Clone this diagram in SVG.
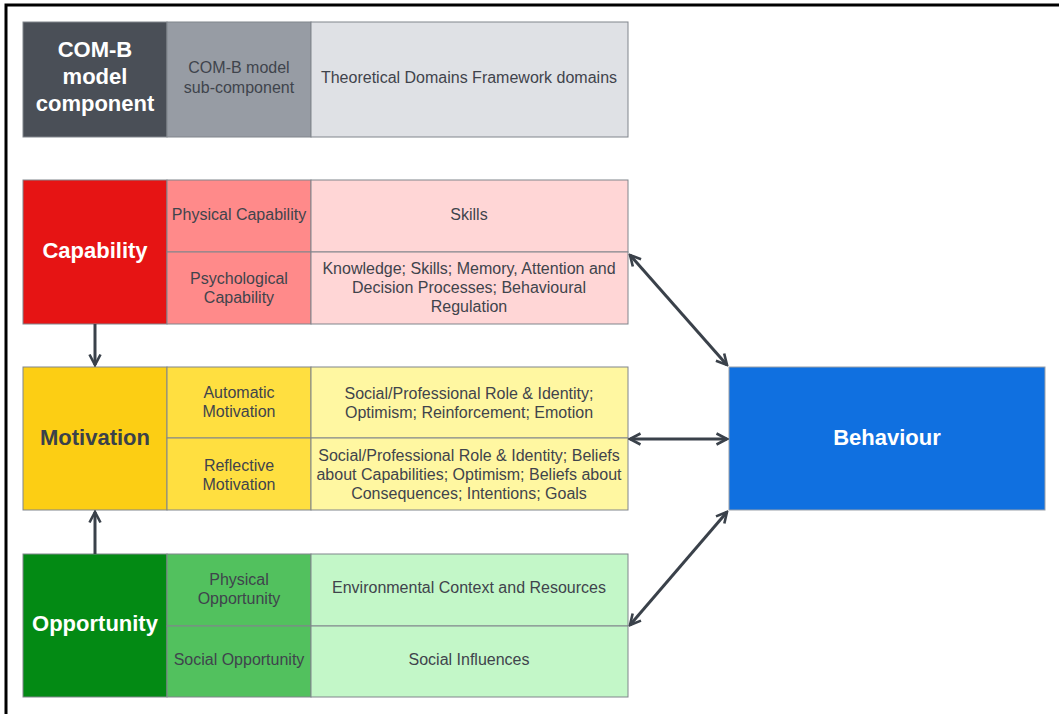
<svg xmlns="http://www.w3.org/2000/svg" width="1059" height="714" viewBox="0 0 1059 714">
<style>
.cell{stroke:#80858c;stroke-width:1}
.t{font-family:"Liberation Sans",Arial,sans-serif;font-size:16px;fill:#3f444c;text-anchor:middle;dominant-baseline:central}
.b{font-family:"Liberation Sans",Arial,sans-serif;font-size:22px;font-weight:bold;text-anchor:middle;dominant-baseline:central}
.w{fill:#ffffff}
.d{fill:#3a414a}
.c{fill:none;stroke:#3a414a;stroke-width:3}
</style>
<defs>
<marker id="ah" viewBox="0 0 14 14" refX="12" refY="7" markerWidth="14" markerHeight="14" markerUnits="userSpaceOnUse" orient="auto-start-reverse">
<path d="M1.5,1.5 L12,7 L1.5,12.5" fill="none" stroke="#3a414a" stroke-width="2.6"/>
</marker>
</defs>
<rect width="1059" height="714" fill="#ffffff"/>
<path d="M6,714 V5 H1059" fill="none" stroke="#000000" stroke-width="3"/>

<g id="header">
<rect class="cell" x="23" y="22" width="144" height="115" fill="#4a4f57"/>
<rect class="cell" x="167" y="22" width="144" height="115" fill="#979ca4"/>
<rect class="cell" x="311" y="22" width="317" height="115" fill="#dfe1e5"/>
<text class="b w" x="95"><tspan x="95" y="49">COM-B</tspan><tspan x="95" y="76">model</tspan><tspan x="95" y="103">component</tspan></text>
<text class="t" x="239"><tspan x="239" y="67">COM-B model</tspan><tspan x="239" y="87">sub-component</tspan></text>
<text class="t" x="469" y="77">Theoretical Domains Framework domains</text>
</g>

<g id="capability">
<rect class="cell" x="23" y="180" width="144" height="144" fill="#e61414"/>
<rect class="cell" x="167" y="180" width="144" height="72" fill="#ff8a8a"/>
<rect class="cell" x="167" y="252" width="144" height="72" fill="#ff8a8a"/>
<rect class="cell" x="311" y="180" width="317" height="72" fill="#ffd6d6"/>
<rect class="cell" x="311" y="252" width="317" height="72" fill="#ffd6d6"/>
<text class="b w" x="95" y="250">Capability</text>
<text class="t" x="239" y="214">Physical Capability</text>
<text class="t" x="239"><tspan x="239" y="278">Psychological</tspan><tspan x="239" y="297">Capability</tspan></text>
<text class="t" x="469" y="214">Skills</text>
<text class="t" x="469"><tspan x="469" y="268">Knowledge; Skills; Memory, Attention and</tspan><tspan x="469" y="287">Decision Processes; Behavioural</tspan><tspan x="469" y="306">Regulation</tspan></text>
</g>

<g id="motivation">
<rect class="cell" x="23" y="367" width="144" height="143" fill="#fcce14"/>
<rect class="cell" x="167" y="367" width="144" height="71" fill="#ffdf40"/>
<rect class="cell" x="167" y="438" width="144" height="72" fill="#ffdf40"/>
<rect class="cell" x="311" y="367" width="317" height="71" fill="#fff7a1"/>
<rect class="cell" x="311" y="438" width="317" height="72" fill="#fff7a1"/>
<text class="b d" x="95" y="437">Motivation</text>
<text class="t" x="239"><tspan x="239" y="392">Automatic</tspan><tspan x="239" y="411">Motivation</tspan></text>
<text class="t" x="239"><tspan x="239" y="465">Reflective</tspan><tspan x="239" y="484">Motivation</tspan></text>
<text class="t" x="469"><tspan x="469" y="393">Social/Professional Role &amp; Identity;</tspan><tspan x="469" y="412">Optimism; Reinforcement; Emotion</tspan></text>
<text class="t" x="469"><tspan x="469" y="455">Social/Professional Role &amp; Identity; Beliefs</tspan><tspan x="469" y="474">about Capabilities; Optimism; Beliefs about</tspan><tspan x="469" y="493">Consequences; Intentions; Goals</tspan></text>
</g>

<g id="opportunity">
<rect class="cell" x="23" y="554" width="144" height="143" fill="#038a14"/>
<rect class="cell" x="167" y="554" width="144" height="72" fill="#52c15e"/>
<rect class="cell" x="167" y="626" width="144" height="71" fill="#52c15e"/>
<rect class="cell" x="311" y="554" width="317" height="72" fill="#c3f7c8"/>
<rect class="cell" x="311" y="626" width="317" height="71" fill="#c3f7c8"/>
<text class="b w" x="95" y="623">Opportunity</text>
<text class="t" x="239"><tspan x="239" y="579">Physical</tspan><tspan x="239" y="598">Opportunity</tspan></text>
<text class="t" x="239" y="659">Social Opportunity</text>
<text class="t" x="469" y="587">Environmental Context and Resources</text>
<text class="t" x="469" y="659">Social Influences</text>
</g>

<g id="behaviour">
<rect x="729" y="367" width="316" height="143" fill="#1070e0" stroke="#9aa0a8" stroke-width="1"/>
<text class="b w" x="887" y="437" font-size="21">Behaviour</text>
</g>

<g id="connectors">
<line class="c" x1="95" y1="324" x2="95" y2="365" marker-end="url(#ah)"/>
<line class="c" x1="95" y1="554" x2="95" y2="512" marker-end="url(#ah)"/>
<line class="c" x1="630" y1="255" x2="727" y2="365" marker-start="url(#ah)" marker-end="url(#ah)"/>
<line class="c" x1="630" y1="439" x2="727" y2="439" marker-start="url(#ah)" marker-end="url(#ah)"/>
<line class="c" x1="630" y1="625" x2="727" y2="512" marker-start="url(#ah)" marker-end="url(#ah)"/>
</g>
</svg>
